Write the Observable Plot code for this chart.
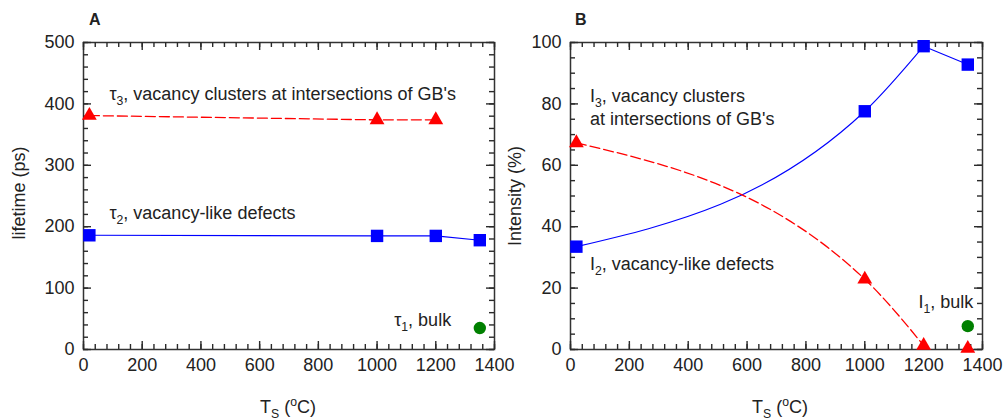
<!DOCTYPE html>
<html>
<head>
<meta charset="utf-8">
<script src="https://cdn.jsdelivr.net/npm/d3@7"></script>
<script src="https://cdn.jsdelivr.net/npm/@observablehq/plot@0.6"></script>
<style>
  body { margin: 0; background: #fff; }
  #wrap { position: relative; width: 1003px; height: 420px; }
  #wrap svg { position: absolute; top: 0; display: block; overflow: visible; }
</style>
</head>
<body>
<div id="wrap"></div>
<script>
// Annealing temperatures (°C)
const temps = [20, 1000, 1200, 1350];
const bulkTemp = [1350];

// Panel A: positron lifetimes (ps)
const tau3 = [381, 374, 374];          // vacancy clusters at GB intersections
const tau2 = [186, 185, 185, 178];     // vacancy-like defects
const tau1 = [35];                     // bulk

// Panel B: intensities (%)
const int3 = [67.3, 22.9, 1.3, 0.3];
const int2 = [33.5, 77.6, 98.8, 92.8];
const int1 = [7.6];

// Tick values
const xTicks = [0, 200, 400, 600, 800, 1000, 1200, 1400];
const yTicksA = [0, 100, 200, 300, 400, 500];
const yTicksB = [0, 20, 40, 60, 80, 100];

const FONT = "'Liberation Sans', Arial, Helvetica, sans-serif";
const INK = "#222";
const FRAME = "#333";
const BLUE = "#0000ff", RED = "#ff0000", GREEN = "#008000";

const HEIGHT = 420, M_TOP = 42, M_BOTTOM = 71;

const rows = (vals, xs = temps) => vals.map((v, i) => ({T: xs[i], v}));

// Box axes: labels on bottom/left, inward major and minor ticks on all four sides
function boxAxes(width, marginLeft, marginRight, yTicks, yMinorStep) {
  const fw = width - marginLeft - marginRight;
  const fh = HEIGHT - M_TOP - M_BOTTOM;
  const xMinor = d3.range(0, 1400 + 1e-9, 40);
  const yMinor = d3.range(0, yTicks[yTicks.length - 1] + 1e-9, yMinorStep);
  const tick = {stroke: "#2a2a2a", strokeWidth: 1.4};
  const MAJ = 8, MIN = 5;
  return [
    Plot.frame({stroke: FRAME, strokeWidth: 1.5}),
    Plot.axisX({anchor: "bottom", ticks: xTicks, tickSize: 0, tickPadding: 9, tickFormat: "d", label: null, fill: INK}),
    Plot.axisY({anchor: "left", ticks: yTicks, tickSize: 0, tickPadding: 9, tickFormat: "d", label: null, fill: INK}),
    // bottom & top
    Plot.ruleX(xTicks, {x: d => d, insetTop: fh - MAJ, ...tick}),
    Plot.ruleX(xMinor, {x: d => d, insetTop: fh - MIN, ...tick}),
    Plot.ruleX(xTicks, {x: d => d, insetBottom: fh - MAJ, ...tick}),
    Plot.ruleX(xMinor, {x: d => d, insetBottom: fh - MIN, ...tick}),
    // left & right
    Plot.ruleY(yTicks, {y: d => d, insetRight: fw - MAJ, ...tick}),
    Plot.ruleY(yMinor, {y: d => d, insetRight: fw - MIN, ...tick}),
    Plot.ruleY(yTicks, {y: d => d, insetLeft: fw - MAJ, ...tick}),
    Plot.ruleY(yMinor, {y: d => d, insetLeft: fw - MIN, ...tick})
  ];
}

// Text with sub/superscript runs
function richText(svg, x, y, parts, {anchor = "start", size = 18, rotate = false, weight = "normal"} = {}) {
  const t = d3.select(svg).append("text")
    .attr("font-family", FONT).attr("font-size", size).attr("font-weight", weight)
    .attr("fill", INK).attr("text-anchor", anchor);
  if (rotate) t.attr("transform", `translate(${x},${y}) rotate(-90)`);
  else t.attr("x", x).attr("y", y);
  let shift = 0;
  for (const p of parts) {
    const [s, kind] = Array.isArray(p) ? p : [p, ""];
    const target = kind === "sub" ? 5 : kind === "sup" ? -7 : 0;
    const ts = t.append("tspan").text(s).attr("dy", target - shift);
    if (kind) ts.attr("font-size", size * 0.68);
    shift = target;
  }
}

const common = {
  height: HEIGHT,
  marginTop: M_TOP,
  marginBottom: M_BOTTOM,
  x: {domain: [0, 1400]},
  style: {fontFamily: FONT, fontSize: "18px", color: INK, background: "none", overflow: "visible"}
};

// ---- Panel A: lifetimes ----
const wA = 500, mlA = 83, mrA = 6;
const chartA = Plot.plot({
  ...common,
  width: wA,
  marginLeft: mlA,
  marginRight: mrA,
  y: {domain: [0, 500]},
  marks: [
    ...boxAxes(wA, mlA, mrA, yTicksA, 20),
    Plot.line(rows(tau3), {x: "T", y: "v", stroke: RED, strokeWidth: 1.3, strokeDasharray: "10,4"}),
    Plot.line(rows(tau2), {x: "T", y: "v", stroke: BLUE, strokeWidth: 1.1}),
    Plot.dot(rows(tau3), {x: "T", y: "v", symbol: "triangle", r: 5.5, fill: RED}),
    Plot.dot(rows(tau2), {x: "T", y: "v", symbol: "square", r: 7, fill: BLUE}),
    Plot.dot(rows(tau1, bulkTemp), {x: "T", y: "v", symbol: "circle", r: 6.2, fill: GREEN})
  ]
});

// ---- Panel B: intensities ----
const wB = 503, mlB = 70, mrB = 21;
const int2Rows = rows(int2), int3Rows = rows(int3);
const chartB = Plot.plot({
  ...common,
  width: wB,
  marginLeft: mlB,
  marginRight: mrB,
  y: {domain: [0, 100]},
  marks: [
    ...boxAxes(wB, mlB, mrB, yTicksB, 5),
    Plot.line(int2Rows.slice(0, 3), {x: "T", y: "v", curve: "monotone-x", stroke: BLUE, strokeWidth: 1.1}),
    Plot.line(int2Rows.slice(2), {x: "T", y: "v", stroke: BLUE, strokeWidth: 1.1}),
    Plot.line(int3Rows.slice(0, 3), {x: "T", y: "v", curve: "monotone-x", stroke: RED, strokeWidth: 1.3, strokeDasharray: "10,4"}),
    Plot.dot(int3Rows, {x: "T", y: "v", symbol: "triangle", r: 5.5, fill: RED}),
    Plot.dot(int2Rows, {x: "T", y: "v", symbol: "square", r: 7, fill: BLUE}),
    Plot.dot(rows(int1, bulkTemp), {x: "T", y: "v", symbol: "circle", r: 6.2, fill: GREEN})
  ]
});

chartA.style.left = "0px";
chartB.style.left = wA + "px";
const wrap = document.getElementById("wrap");
wrap.append(chartA, chartB);

// Annotations placed in data coordinates
function annotate(chart, items) {
  const sx = chart.scale("x"), sy = chart.scale("y");
  for (const [T, v, parts] of items) richText(chart, sx.apply(T), sy.apply(v), parts);
}

annotate(chartA, [
  [90, 405, [["τ"], ["3", "sub"], [", vacancy clusters at intersections of GB's"]]],
  [90, 211, [["τ"], ["2", "sub"], [", vacancy-like defects"]]],
  [1060, 37, [["τ"], ["1", "sub"], [", bulk"]]]
]);
annotate(chartB, [
  [68, 80.6, [["I"], ["3", "sub"], [", vacancy clusters"]]],
  [68, 73, [["at intersections of GB's"]]],
  [68, 25.7, [["I"], ["2", "sub"], [", vacancy-like defects"]]],
  [1184, 13.5, [["I"], ["1", "sub"], [", bulk"]]]
]);

// Panel letters and axis titles
richText(chartA, 89, 25, [["A"]], {size: 16, weight: "bold"});
richText(chartB, 75, 25, [["B"]], {size: 16, weight: "bold"});
richText(chartA, 25, 193, [["lifetime (ps)"]], {anchor: "middle", rotate: true});
richText(chartB, 21, 196, [["Intensity (%)"]], {anchor: "middle", rotate: true});
const xTitle = [["T"], ["S", "sub"], [" ("], ["o", "sup"], ["C)"]];
richText(chartA, 288, 413, xTitle, {anchor: "middle"});
richText(chartB, 280, 413, xTitle, {anchor: "middle"});
</script>
</body>
</html>
